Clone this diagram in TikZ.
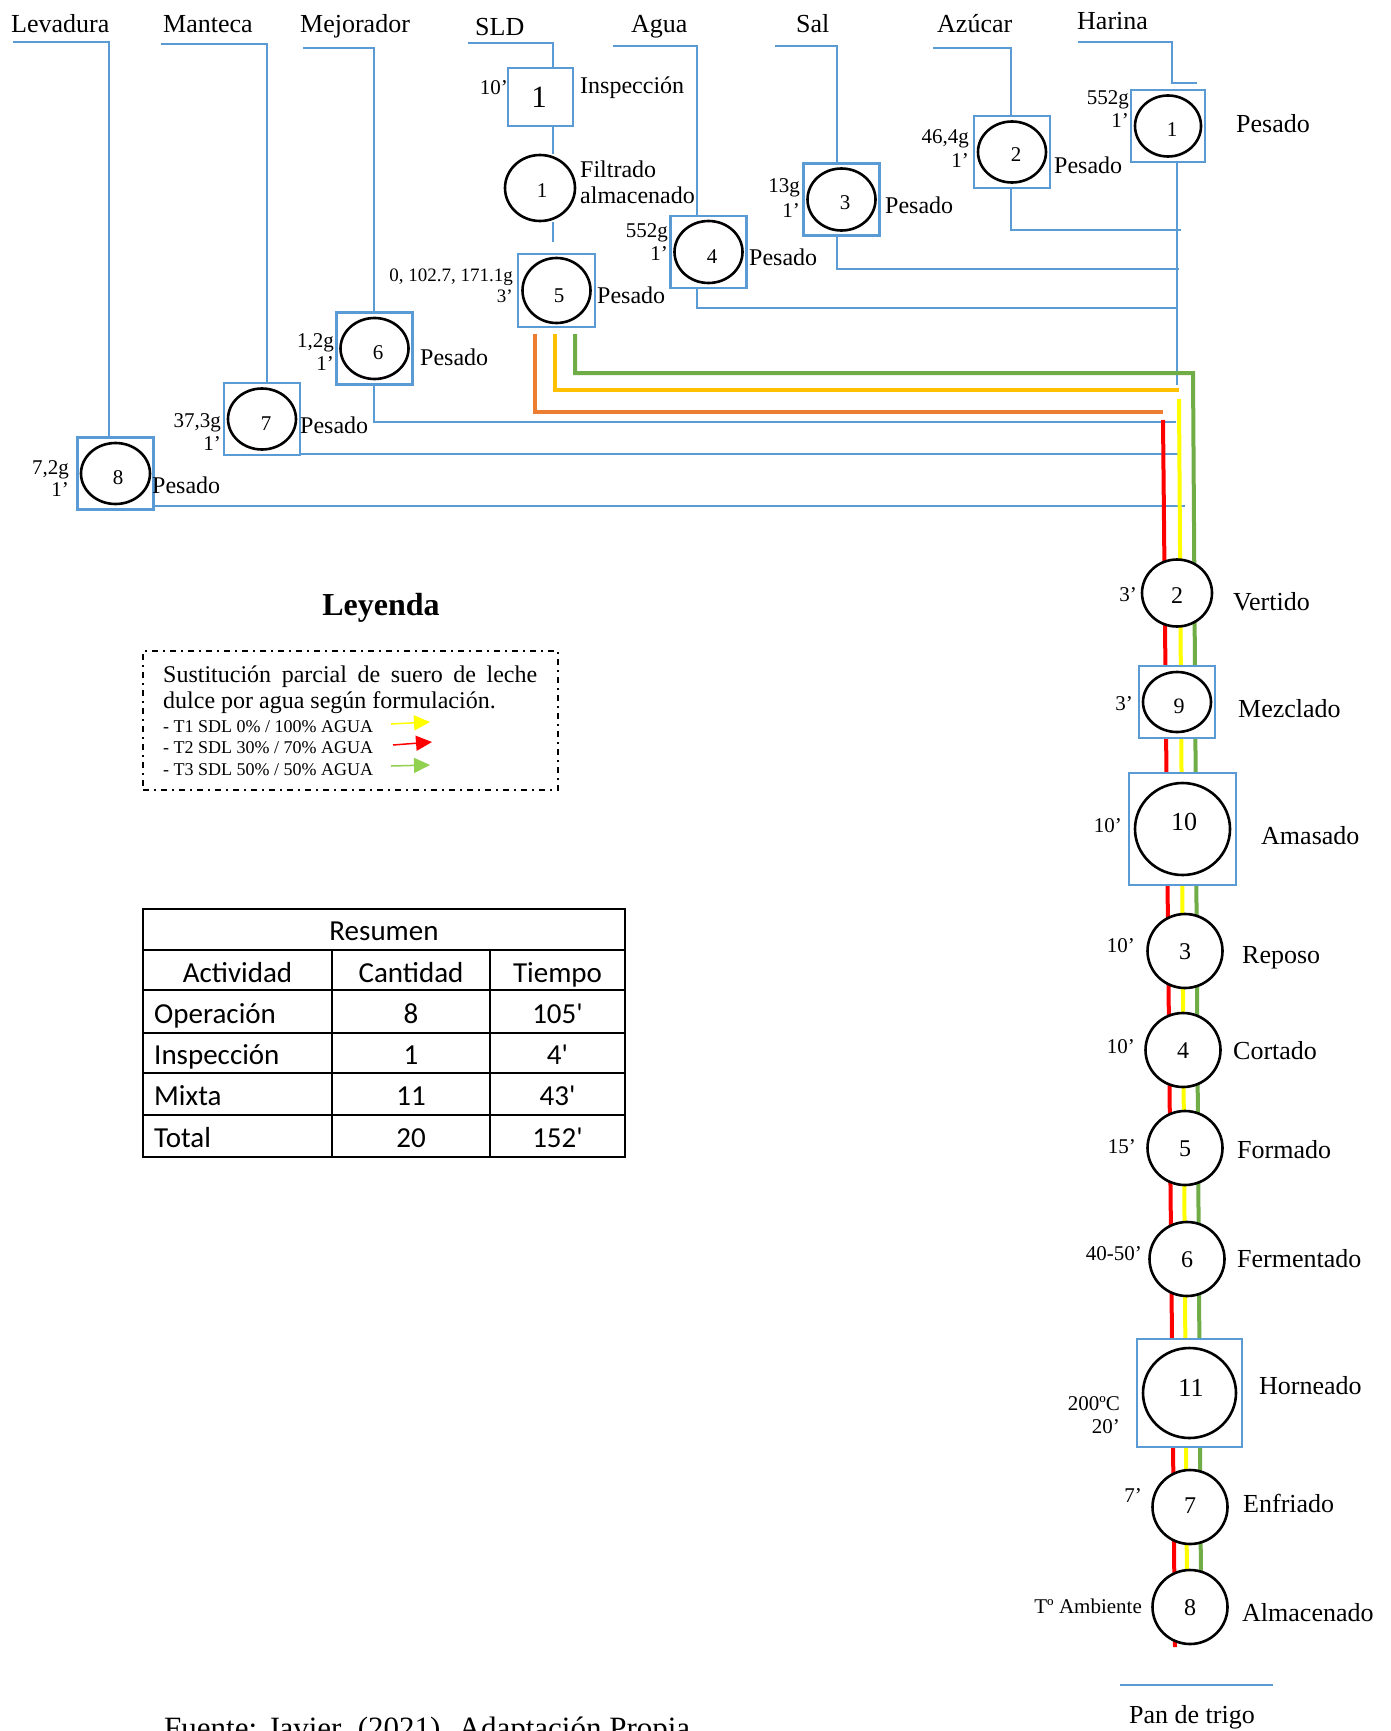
\documentclass[tikz,border=0pt]{standalone}
\usepackage{fontspec}
\setmainfont{Liberation Serif}
\newfontfamily\calib{Carlito}
\usetikzlibrary{shapes.geometric,arrows.meta}
\pgfdeclarelayer{bg}
\pgfsetlayers{bg,main}
\definecolor{bxb}{HTML}{5B9BD5}
\definecolor{lnb}{HTML}{5B9BD5}
\definecolor{orangeC}{HTML}{ED7D31}
\definecolor{goldC}{HTML}{FFC000}
\definecolor{greenC}{HTML}{70AD47}
\definecolor{redC}{HTML}{FF0000}
\definecolor{yellC}{HTML}{FFFF00}
\definecolor{lgreenC}{HTML}{92D050}
\tikzset{
 fs/.style={font=\fontsize{#1}{#1}\selectfont},
 bline/.style={draw=lnb, line width=1.4pt},
 obox/.style={rectangle, draw=bxb, line width=2.8pt, fill=white, inner sep=0pt, minimum width=76pt, minimum height=72pt},
 ocirc/.style={ellipse, draw=black, line width=2.6pt, fill=white, inner sep=0pt, minimum width=68pt, minimum height=61pt},
 fcirc/.style={ellipse, draw=black, line width=2.6pt, fill=white, inner sep=0pt, minimum width=75pt, minimum height=74pt},
 num/.style={inner sep=0pt, anchor=base, fs=21},
 fnum/.style={inner sep=0pt, anchor=base, fs=24},
 lbl/.style={inner sep=0pt, anchor=base west, fs=24},
 flbl/.style={inner sep=0pt, anchor=base west, fs=26},
 qty/.style={inner sep=0pt, anchor=base east, fs=21},
 hdr/.style={inner sep=0pt, anchor=base west, fs=26},
 tline/.style={line width=4pt},
 legarrow/.style={line width=1.5pt, -{Triangle[length=16pt,width=15pt]}},
 tcell/.style={inner sep=0pt, anchor=base, font=\calib\fontsize{29}{29}\selectfont},
 tcellw/.style={inner sep=0pt, anchor=base west, font=\calib\fontsize{29}{29}\selectfont}
}
\begin{document}
\begin{tikzpicture}[x=1pt,y=-1pt]
\useasboundingbox (0,0) rectangle (1391,1731);

% ---------- top labels ----------
\node[hdr] (tLev) at (11,33) {Levadura};
\node[hdr] (tMan) at (163,33) {Manteca};
\node[hdr] (tMej) at (300,33) {Mejorador};
\node[hdr] (tSLD) at (475,36) {SLD};
\node[hdr] (tAgu) at (631,33) {Agua};
\node[hdr] (tSal) at (796,33) {Sal};
\node[hdr] (tAzu) at (937,33) {Azúcar};
\node[hdr] (tHar) at (1077,30) {Harina};

% ---------- ingredient boxes ----------
\node[obox, minimum width=65pt, minimum height=58pt] (bI) at (540.5,97) {};
\node[ocirc, minimum width=70pt, minimum height=66pt] (cF) at (540,188) {};
\node[obox, minimum width=77pt, minimum height=73pt] (b5) at (556.5,290.5) {};
\node[ocirc, minimum height=65pt] (c5) at (b5.center) {};
\node[obox] (b4) at (708.5,252) {};
\node[ocirc, minimum height=62pt] (c4) at (b4.center) {};
\node[obox] (b3) at (841.5,199.5) {};
\node[ocirc, minimum height=62pt] (c3) at (b3.center) {};
\node[obox] (b2) at (1012,152) {};
\node[ocirc] (c2) at (b2.center) {};
\node[obox, minimum width=74pt] (bH) at (1168,126) {};
\node[ocirc, minimum width=66pt] (cH) at (bH.center) {};
\node[obox] (b6) at (374.5,348.5) {};
\node[ocirc] (c6) at (b6.center) {};
\node[obox] (b7) at (262,419) {};
\node[ocirc] (c7) at (b7.center) {};
\node[obox] (b8) at (115.5,473.5) {};
\node[ocirc, minimum width=69pt] (c8) at (b8.center) {};

% numbers
\node[num, fs=31] (nI) at (539,108) {1};
\node[num] (nF) at (542,197) {1};
\node[num] (n5) at (559,302) {5};
\node[num] (n4) at (712,263) {4};
\node[num] (n3) at (845,210) {3};
\node[num] (n2) at (1016,162) {2};
\node[num] (nH) at (1172,137) {1};
\node[num] (n6) at (378,359) {6};
\node[num] (n7) at (266,430) {7};
\node[num] (n8) at (118,484) {8};

% side labels
\node[lbl] (lI) at (580,94) {Inspección};
\node[lbl] (lF1) at (580,178) {Filtrado};
\node[lbl] (lF2) at (580,204) {almacenado};
\node[lbl] (l5) at (597,303) {Pesado};
\node[lbl] (l4) at (749,265) {Pesado};
\node[lbl] (l3) at (885,214) {Pesado};
\node[lbl] (l2) at (1054,174) {Pesado};
\node[lbl, fs=26] (lH) at (1236,133) {Pesado};
\node[lbl] (l6) at (420,365) {Pesado};
\node[lbl] (l7) at (300,433) {Pesado};
\node[lbl] (l8) at (152,493) {Pesado};

% quantities
\node[qty] (qI) at (508,95) {10’};
\node[qty, fs=19] (q5a) at (513,281) {0, 102.7, 171.1g};
\node[qty, fs=19] (q5b) at (513,302) {3’};
\node[qty] (q4a) at (668,237) {552g};
\node[qty] (q4b) at (668,260) {1’};
\node[qty] (q3a) at (800,193) {13g};
\node[qty] (q3b) at (800,218) {1’};
\node[qty] (q2a) at (969,144) {46,4g};
\node[qty] (q2b) at (969,168) {1’};
\node[qty] (qHa) at (1129,105) {552g};
\node[qty] (qHb) at (1129,128) {1’};
\node[qty] (q6a) at (334,347) {1,2g};
\node[qty] (q6b) at (334,370) {1’};
\node[qty] (q7a) at (221,427) {37,3g};
\node[qty] (q7b) at (221,450) {1’};
\node[qty] (q8a) at (69,474) {7,2g};
\node[qty] (q8b) at (69,496) {1’};

% ---------- main flow ----------
\node[fcirc, minimum width=70pt, minimum height=67pt] (f2) at (1177,593) {};
\node[obox] (b9) at (1177,702) {};
\node[ocirc, minimum height=60pt] (f9) at (b9.center) {};
\node[obox, minimum width=107pt, minimum height=112pt] (b10) at (1182.5,829) {};
\node[fcirc, minimum width=95pt, minimum height=92pt] (f10) at (b10.center) {};
\node[fcirc] (f3) at (1185,951) {};
\node[fcirc] (f4) at (1183,1050) {};
\node[fcirc] (f5) at (1185,1148) {};
\node[fcirc] (f6) at (1187,1259) {};
\node[obox, minimum width=105pt, minimum height=108pt] (b11) at (1189.5,1393) {};
\node[fcirc, minimum width=93pt, minimum height=90pt] (f11) at (b11.center) {};
\node[fcirc] (f7) at (1190,1507) {};
\node[fcirc] (f8) at (1190,1607) {};

\node[fnum] (m2) at (1177,603) {2};
\node[fnum, fs=22] (m9) at (1179,713) {9};
\node[fnum, fs=26] (m10) at (1184,830) {10};
\node[fnum] (m3) at (1185,959) {3};
\node[fnum] (m4) at (1183,1058) {4};
\node[fnum] (m5) at (1185,1156) {5};
\node[fnum] (m6) at (1187,1267) {6};
\node[fnum, fs=26] (m11) at (1191,1396) {11};
\node[fnum] (m7) at (1190,1513) {7};
\node[fnum] (m8) at (1190,1615) {8};

\node[qty] (g2) at (1137,601) {3’};
\node[qty] (g9) at (1133,710) {3’};
\node[qty] (g10) at (1122,832) {10’};
\node[qty] (g3) at (1135,952) {10’};
\node[qty] (g4) at (1135,1053) {10’};
\node[qty] (g5) at (1136,1153) {15’};
\node[qty] (g6) at (1142,1260) {40-50’};
\node[qty] (g11a) at (1120,1410) {200ºC};
\node[qty] (g11b) at (1120,1433) {20’};
\node[qty] (g7) at (1142,1502) {7’};
\node[qty] (g8) at (1142,1613) {Tº Ambiente};

\node[flbl] (k2) at (1233,610) {Vertido};
\node[flbl] (k9) at (1238,717) {Mezclado};
\node[flbl] (k10) at (1261,844) {Amasado};
\node[flbl] (k3) at (1242,963) {Reposo};
\node[flbl] (k4) at (1233,1059) {Cortado};
\node[flbl] (k5) at (1237,1158) {Formado};
\node[flbl] (k6) at (1237,1267) {Fermentado};
\node[flbl] (k11) at (1259,1394) {Horneado};
\node[flbl] (k7) at (1243,1512) {Enfriado};
\node[flbl] (k8) at (1242,1621) {Almacenado};

\coordinate (panA) at (1120,1685);
\coordinate (panB) at (1273,1685);
\node[inner sep=0pt, anchor=base, fs=26] (pan) at (1192,1723) {Pan de trigo};

% ---------- connectors (background layer) ----------
\begin{pgfonlayer}{bg}
\fill[white] (0,0) rectangle (1391,1731);
\coordinate (levA) at (13,42); \coordinate (levB) at (109,42);
\draw[bline] (levA) -- (levB) -- (levB |- b8.north);
\coordinate (manA) at (161,44); \coordinate (manB) at (267,44);
\draw[bline] (manA) -- (manB) -- (manB |- b7.north);
\coordinate (mjA) at (303,48); \coordinate (mjB) at (374,48);
\draw[bline] (mjA) -- (mjB) -- (mjB |- b6.north);
\coordinate (slA) at (468,43); \coordinate (slB) at (553,43); \coordinate (slC) at (553,242);
\draw[bline] (slA) -- (slB) -- (slB |- bI.north);
\draw[bline] (slB |- bI.south) -- (slB |- cF.north);
\draw[bline] (slB |- cF.south) -- (slC);
\coordinate (agA) at (613,46); \coordinate (agB) at (697,46); \coordinate (agC) at (1178,308);
\draw[bline] (agA) -- (agB) -- (agB |- b4.north);
\draw[bline] (agB |- b4.south) -- (agB |- agC) -- (agC);
\coordinate (saA) at (775,46); \coordinate (saB) at (837,46); \coordinate (saC) at (1179,269);
\draw[bline] (saA) -- (saB) -- (saB |- b3.north);
\draw[bline] (saB |- b3.south) -- (saB |- saC) -- (saC);
\coordinate (azA) at (933,48); \coordinate (azB) at (1011,48); \coordinate (azC) at (1181,230);
\draw[bline] (azA) -- (azB) -- (azB |- b2.north);
\draw[bline] (azB |- b2.south) -- (azB |- azC) -- (azC);
\coordinate (haA) at (1078,42); \coordinate (haB) at (1172,42); \coordinate (haC) at (1172,83); \coordinate (haD) at (1197,83);
\draw[bline] (haA) -- (haB) -- (haC) -- (haD);
\coordinate (trB) at (1177,385);
\draw[bline] (trB |- bH.south) -- (trB);
\coordinate (mjC) at (1176,422);
\draw[bline] (mjB |- b6.south) -- (mjB |- mjC) -- (mjC);
\coordinate (maC) at (1179,454);
\draw[bline] (b7.east |- maC) -- (maC);
\coordinate (leC) at (1185,506);
\draw[bline] (b8.east |- leC) -- (leC);
\draw[bline] (panA) -- (panB);

% coloured routes
\coordinate (orA) at (535,334); \coordinate (orB) at (535,412); \coordinate (orC) at (1163,412);
\coordinate (goA) at (555,334); \coordinate (goB) at (555,390); \coordinate (goC) at (1179,390);
\coordinate (gnA) at (575,334); \coordinate (gnB) at (575,373); \coordinate (gnC) at (1193,373); \coordinate (gnD) at (1201,1590);
\coordinate (rdA) at (1163,420); \coordinate (rdB) at (1175,1647);
\coordinate (ylA) at (1179,399); \coordinate (ylB) at (1187,1590);
\draw[tline, orangeC] (orA) -- (orB) -- (orC);
\draw[tline, goldC] (goA) -- (goB) -- (goC);
\draw[tline, greenC] (gnA) -- (gnB) -- (gnC) -- (gnD);
\draw[tline, redC] (rdA) -- (rdB);
\draw[tline, yellC] (ylA) -- (ylB);
\end{pgfonlayer}

% ---------- legend ----------
\node[inner sep=0pt, anchor=base, font=\bfseries\fontsize{32}{32}\selectfont] (ley) at (381,615) {Leyenda};
\node[draw, line width=2pt, dash pattern=on 6pt off 5pt on 2pt off 5pt, inner sep=0pt, minimum width=415pt, minimum height=139pt] (legbox) at (350.5,720.5) {};
\node[inner sep=0pt, anchor=base west, fs=24] (lg1) at (163,682) {\makebox[374pt][s]{Sustitución parcial de suero de leche}};
\node[inner sep=0pt, anchor=base west, fs=24] (lg2) at (163,708) {dulce por agua según formulación.};
\node[inner sep=0pt, anchor=base west, fs=18] (lt1) at (163,732) {- T1 SDL 0\% / 100\% AGUA};
\node[inner sep=0pt, anchor=base west, fs=18] (lt2) at (163,753) {- T2 SDL 30\% / 70\% AGUA};
\node[inner sep=0pt, anchor=base west, fs=18] (lt3) at (163,775) {- T3 SDL 50\% / 50\% AGUA};
\coordinate (a1s) at (391,724); \coordinate (a1e) at (430,722);
\coordinate (a2s) at (393,745); \coordinate (a2e) at (432,742);
\coordinate (a3s) at (391,766); \coordinate (a3e) at (430,765);
\draw[legarrow, yellC] (a1s) -- (a1e);
\draw[legarrow, redC] (a2s) -- (a2e);
\draw[legarrow, lgreenC] (a3s) -- (a3e);

% ---------- summary table ----------
\draw[line width=2pt] (143,909) rectangle (625,1157);
\foreach \yy in {950,990,1033,1073,1115} \draw[line width=2pt] (143,\yy) -- (625,\yy);
\draw[line width=2pt] (332,950) -- (332,1157);
\draw[line width=2pt] (490,950) -- (490,1157);
\node[tcell] (tr0) at (384,940) {Resumen};
\node[tcell] (th1) at (237.5,982) {Actividad};
\node[tcell] (th2) at (411,982) {Cantidad};
\node[tcell] (th3) at (557.5,982) {Tiempo};
\node[tcellw] (r1a) at (154,1023) {Operación};
\node[tcell] (r1b) at (411,1023) {8};
\node[tcell] (r1c) at (557.5,1023) {105\textquotesingle};
\node[tcellw] (r2a) at (154,1064) {Inspección};
\node[tcell] (r2b) at (411,1064) {1};
\node[tcell] (r2c) at (557.5,1064) {4\textquotesingle};
\node[tcellw] (r3a) at (154,1105) {Mixta};
\node[tcell] (r3b) at (411,1105) {11};
\node[tcell] (r3c) at (557.5,1105) {43\textquotesingle};
\node[tcellw] (r4a) at (154,1147) {Total};
\node[tcell] (r4b) at (411,1147) {20};
\node[tcell] (r4c) at (557.5,1147) {152\textquotesingle};

% ---------- source ----------
\node[inner sep=0pt, anchor=base west, fs=31] (src) at (164,1738) {Fuente: Javier. (2021). Adaptación Propia};
\end{tikzpicture}
\end{document}
